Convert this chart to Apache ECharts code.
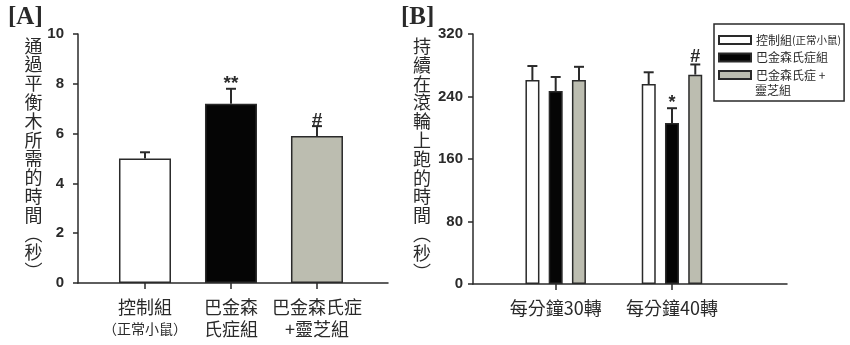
<!DOCTYPE html>
<html><head><meta charset="utf-8">
<script src="https://cdn.jsdelivr.net/npm/echarts@6/dist/echarts.min.js"></script>
<style>html,body{margin:0;padding:0;background:#fff}#c{width:850px;height:345px}</style>
</head><body><div id="c"></div>
<script>
// ---------- Panel A data ----------
const catsA = ['控制組', '巴金森\n氏症組', '巴金森氏症\n+靈芝組'];
const subA = ['（正常小鼠）', '', ''];
const valuesA = [5.0, 7.2, 5.9];
const errA = [0.25, 0.6, 0.4];
const marksA = ['', '**', '#'];
const ticksA = [0, 2, 4, 6, 8, 10];
// ---------- Panel B data ----------
const catsB = ['每分鐘30轉', '每分鐘40轉'];
const seriesNamesB = ['控制組(正常小鼠)', '巴金森氏症組', '巴金森氏症 +\n靈芝組'];
const ctrlB = [261, 256];
const ctrlErrB = [18, 15];
const ctrlMarksB = ['', ''];
const pdB = [247, 206];
const pdErrB = [18, 19];
const pdMarksB = ['', '*'];
const lzB = [261, 268];
const lzErrB = [17, 13];
const lzMarksB = ['', '#'];
const ticksB = [0, 80, 160, 240, 320];

const CJK = '"Noto Sans CJK TC","Noto Sans CJK SC",sans-serif';
const NUM = '"Liberation Sans",Arial,sans-serif';
const INK = '#2a2a2a';
const WHITE = '#ffffff', BLACK = '#050505', GRAY = '#bcbdb0';

const chart = echarts.init(document.getElementById('c'));

function errSeries(xi, yi, vals, errs, marks, offset, markFont, markDy) {
  return {
    type: 'custom', xAxisIndex: xi, yAxisIndex: yi, z: 5, silent: true, clip: false,
    data: vals.map((v, i) => [i, v + errs[i]]),
    renderItem: (params, api) => {
      const i = params.dataIndex;
      const base = api.coord([i, vals[i]]);
      const top = api.coord([i, vals[i] + errs[i]]);
      const x = base[0] + offset;
      const ch = [
        {type: 'line', shape: {x1: x, y1: base[1], x2: x, y2: top[1]}, style: {stroke: INK, lineWidth: 2}},
        {type: 'line', shape: {x1: x - 5, y1: top[1], x2: x + 5, y2: top[1]}, style: {stroke: INK, lineWidth: 2}}
      ];
      const m = marks[i];
      if (m) ch.push({type: 'text', x: x, y: top[1] + markDy,
        style: {text: m, align: 'center', verticalAlign: 'bottom', font: markFont, fill: INK}});
      return {type: 'group', children: ch};
    }
  };
}

const yAxisCommon = {
  type: 'value', position: 'left',
  axisLine: {show: true, onZero: false, lineStyle: {color: INK, width: 1.5}},
  axisTick: {show: true, length: 5, lineStyle: {color: INK, width: 1.5}},
  splitLine: {show: false},
  axisLabel: {fontFamily: NUM, fontWeight: 'bold', fontSize: 15, color: INK},
  nameLocation: 'middle', nameRotate: 0,
  nameTextStyle: {fontFamily: CJK, fontSize: 18, lineHeight: 18.8, color: INK}
};

const option = {
  animation: false,
  backgroundColor: '#fff',
  title: [
    {text: '[A]', left: 3, top: 0, textStyle: {fontFamily: '"Liberation Serif",serif', fontWeight: 'bold', fontSize: 25, color: INK}},
    {text: '[B]', left: 396, top: 0, textStyle: {fontFamily: '"Liberation Serif",serif', fontWeight: 'bold', fontSize: 25, color: INK}}
  ],
  legend: {
    data: seriesNamesB,
    orient: 'vertical', left: 714, top: 24,
    backgroundColor: '#fff',
    borderColor: INK, borderWidth: 1.5,
    padding: [8, 3, 18, 4],
    itemWidth: 32, itemHeight: 8, itemGap: 1.5,
    icon: 'rect',
    formatter: name => {
      if (name === seriesNamesB[0]) return '控制組{s|(正常小鼠)}';
      return name.split('\n')[0];
    },
    textStyle: {fontFamily: CJK, fontSize: 12, lineHeight: 16, color: INK,
      rich: {s: {fontFamily: CJK, fontSize: 10.5, lineHeight: 16, color: INK}}}
  },
  graphic: [
    {type: 'text', left: 755, top: 84, z: 100,
     style: {text: seriesNamesB[2].split('\n')[1], font: '12px ' + CJK, fill: INK}}
  ],
  grid: [
    {left: 78, top: 34, width: 310, height: 249},
    {left: 473, top: 34, width: 314, height: 250}
  ],
  xAxis: [
    {
      type: 'value', gridIndex: 0, min: -0.779, max: 2.826, position: 'bottom',
      axisLine: {show: true, onZero: false, lineStyle: {color: INK, width: 1.5}},
      axisTick: {show: true, length: 6, customValues: [0, 1, 2], lineStyle: {color: INK, width: 1.5}},
      splitLine: {show: false},
      axisLabel: {
        customValues: [0, 1, 2], margin: 13,
        fontFamily: CJK, fontSize: 18, lineHeight: 22, color: INK,
        formatter: v => { const i = Math.round(v); return subA[i] ? catsA[i] + '\n{s|' + subA[i] + '}' : catsA[i]; },
        rich: {s: {fontFamily: CJK, fontSize: 14, lineHeight: 22, color: INK}}
      }
    },
    {
      type: 'value', gridIndex: 1, min: -0.711, max: 1.989, position: 'bottom',
      axisLine: {show: true, onZero: false, lineStyle: {color: INK, width: 1.5}},
      axisTick: {show: true, length: 6, customValues: [0, 1], lineStyle: {color: INK, width: 1.5}},
      splitLine: {show: false},
      axisLabel: {
        customValues: [0, 1], margin: 13,
        fontFamily: CJK, fontSize: 18, lineHeight: 22, color: INK,
        formatter: v => catsB[Math.round(v)]
      }
    }
  ],
  yAxis: [
    Object.assign({}, yAxisCommon, {
      gridIndex: 0, min: 0, max: 10, interval: 2,
      axisLabel: Object.assign({}, yAxisCommon.axisLabel, {margin: 14}),
      name: '通過平衡木所需的時間︵秒︶'.split('').join('\n'), nameGap: 33
    }),
    Object.assign({}, yAxisCommon, {
      gridIndex: 1, min: 0, max: 320, interval: 80,
      axisLabel: Object.assign({}, yAxisCommon.axisLabel, {margin: 10}),
      name: '持續在滾輪上跑的時間︵秒︶'.split('').join('\n'), nameGap: 42,
      nameTextStyle: Object.assign({}, yAxisCommon.nameTextStyle, {padding: [10, 0, 0, 0]})
    })
  ],
  series: [
    {
      type: 'bar', xAxisIndex: 0, yAxisIndex: 0, barWidth: 52, z: 3,
      data: valuesA.map((v, i) => ({value: [i, v],
        itemStyle: {color: [WHITE, BLACK, GRAY][i], borderColor: INK, borderWidth: 1.5}}))
    },
    errSeries(0, 0, valuesA, errA, marksA, 0, 'bold 19px ' + NUM, 4),
    {
      name: seriesNamesB[0], type: 'bar', xAxisIndex: 1, yAxisIndex: 1, barWidth: 14, barGap: '66%', z: 3,
      itemStyle: {color: WHITE, borderColor: INK, borderWidth: 1.5},
      data: ctrlB.map((v, i) => [i, v])
    },
    {
      name: seriesNamesB[1], type: 'bar', xAxisIndex: 1, yAxisIndex: 1, barWidth: 14, barGap: '66%', z: 3,
      itemStyle: {color: BLACK, borderColor: INK, borderWidth: 1.5},
      data: pdB.map((v, i) => [i, v])
    },
    {
      name: seriesNamesB[2], type: 'bar', xAxisIndex: 1, yAxisIndex: 1, barWidth: 14, barGap: '66%', z: 3,
      itemStyle: {color: GRAY, borderColor: INK, borderWidth: 1.5},
      data: lzB.map((v, i) => [i, v])
    },
    errSeries(1, 1, ctrlB, ctrlErrB, ctrlMarksB, -23.3, 'bold 18px ' + NUM, 4),
    errSeries(1, 1, pdB, pdErrB, pdMarksB, 0, 'bold 18px ' + NUM, 4),
    errSeries(1, 1, lzB, lzErrB, lzMarksB, 23.3, 'bold 18px ' + NUM, 2)
  ]
};
chart.setOption(option);
</script>
</body></html>
